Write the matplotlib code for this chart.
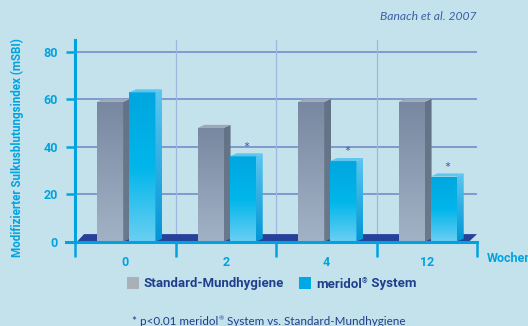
import numpy as np
import matplotlib.pyplot as plt
from matplotlib.patches import Polygon, Rectangle
from matplotlib.colors import LinearSegmentedColormap

plt.rcParams['font.family'] = ['Lato', 'DejaVu Sans']

weeks = ['0', '2', '4', '12']
standard = [59, 48, 59, 59]
meridol = [63, 36, 34, 27.5]
significant = [False, True, True, True]

BLUE = '#00a3e0'
NAVY = '#1f3f8c'
BG = '#c4e2eb'
BOLD = dict(family=['Roboto', 'DejaVu Sans'], fontweight='bold')

fig = plt.figure(figsize=(5.28, 3.26), dpi=100, facecolor=BG)
ax = fig.add_axes([75 / 528, 1 - 241.7 / 326, 402 / 528, 201.7 / 326])
ax.set_facecolor('none')
ax.set_xlim(-0.5, 3.5)
ax.set_ylim(0, 85.1)

# grid
for y in [20, 40, 60, 80]:
    ax.axhline(y, color='#6f86c6', lw=1.1, zorder=1)
for x in [0.5, 1.5, 2.5]:
    ax.axvline(x, color='#9fb6de', lw=0.9, zorder=1)

# floor
floor = Polygon([(-0.48, 0), (3.42, 0), (3.5, 3.2), (-0.41, 3.2)],
                closed=True, fc='#27409a', ec='none', zorder=2)
ax.add_patch(floor)

dx, dy = 0.068, 1.3
gray_cmap = LinearSegmentedColormap.from_list('g', ['#7888a0', '#a2b2c6'])
blue_cmap = LinearSegmentedColormap.from_list('b', ['#00a6df', '#00b6ea', '#6acff3'])
blue_side = LinearSegmentedColormap.from_list('bs', ['#5cc6f0', '#0096d6'])
gray_side = LinearSegmentedColormap.from_list('gs', ['#637286', '#6a7a8c'])
grad = np.linspace(0, 1, 100).reshape(-1, 1)


def filled(patch, cmap, ext):
    ax.add_patch(patch)
    im = ax.imshow(grad, cmap=cmap, aspect='auto', extent=ext,
                   origin='upper', zorder=4)
    im.set_clip_path(patch)


def bar3d(x0, w, h, cmap, side_cmap, top):
    x1 = x0 + w
    filled(Rectangle((x0, 0), w, h, fc='none', ec='none', zorder=4),
           cmap, (x0, x1, 0, h))
    filled(Polygon([(x1, 0), (x1 + dx, dy), (x1 + dx, h + dy), (x1, h)],
                   fc='none', ec='none', zorder=4),
           side_cmap, (x1, x1 + dx, 0, h + dy))
    ax.add_patch(Polygon([(x0, h), (x0 + dx, h + dy), (x1 + dx, h + dy), (x1, h)],
                         fc=top, ec='none', zorder=4))


for i in range(len(weeks)):
    bar3d(i - 0.28, 0.26, standard[i], gray_cmap, gray_side, '#9ca8b6')
    bar3d(i + 0.04, 0.26, meridol[i], blue_cmap, blue_side, '#5cc6f0')
    if significant[i]:
        ax.text(i + 0.17 + dx / 2, meridol[i] + dy - 1.0, '*', color='#3d5fa6',
                ha='center', va='bottom', fontsize=10.5)

ax.set_xlim(-0.5, 3.5)
ax.set_ylim(0, 85.1)

for s in ['top', 'right']:
    ax.spines[s].set_visible(False)
ax.spines['left'].set_color(BLUE)
ax.spines['left'].set_linewidth(2.2)
ax.spines['left'].set_zorder(6)
ax.spines['bottom'].set_color(BLUE)
ax.spines['bottom'].set_linewidth(2.2)
ax.spines['bottom'].set_bounds(-0.59, 3.5)
ax.spines['bottom'].set_zorder(6)

ax.set_yticks([0, 20, 40, 60, 80])
ax.set_yticklabels(['0', '20', '40', '60', '80'], fontsize=9, **BOLD)
ax.tick_params(axis='y', colors=BLUE, length=6.5, width=1.8, pad=6)

ax.set_xticks([-0.5, 0.5, 1.5, 2.5, 3.5])
ax.set_xticklabels([])
ax.tick_params(axis='x', which='major', colors=BLUE, length=11, width=1.8)
ax.set_xticks(range(len(weeks)), minor=True)
ax.set_xticklabels(weeks, minor=True, fontsize=9, color=BLUE, **BOLD)
ax.tick_params(axis='x', which='minor', length=0, pad=10)

fig.text(17 / 528, 1 - 148 / 326, 'Modifizierter Sulkusblutungsindex (mSBI)',
         rotation=90, ha='center', va='center', color=BLUE, fontsize=8.4, **BOLD)
fig.text(487 / 528, 1 - 259 / 326, 'Wochen', ha='left', va='center',
         color=BLUE, fontsize=9, **BOLD)
fig.text(476 / 528, 1 - 16 / 326, 'Banach et al. 2007', ha='right', va='center',
         color='#3d5fa6', style='italic', fontsize=8.7)


def reg_text(x, y, before, after, size, **kw):
    # text with a small raised ® between two parts
    t1 = fig.text(x, y, before, ha='left', va='baseline', fontsize=size, **kw)
    t2 = ax.annotate('®', xy=(1, 1), xycoords=t1, xytext=(0.3, 0),
                     textcoords='offset points', ha='left', va='top',
                     fontsize=size * 0.55, **kw)
    ax.annotate(after, xy=(1, 0), xycoords=(t2, t1), ha='left', va='bottom',
                fontsize=size, **kw)


# legend
fig.patches.append(Rectangle((127 / 528, 1 - 289 / 326), 12 / 528, 12 / 326,
                             transform=fig.transFigure, fc='#a9b0b8', ec='none'))
fig.text(143 / 528, 1 - 287.5 / 326, 'Standard-Mundhygiene', ha='left', va='baseline',
         color=NAVY, fontsize=9.5, **BOLD)
fig.patches.append(Rectangle((299 / 528, 1 - 289 / 326), 12 / 528, 12 / 326,
                             transform=fig.transFigure, fc='#00a8e6', ec='none'))
reg_text(316 / 528, 1 - 287.5 / 326, 'meridol', ' System', 9.5, color=NAVY, **BOLD)

reg_text(132 / 528, 1 - 325 / 326, '* p<0.01 meridol',
         ' System vs. Standard-Mundhygiene', 8.4, color=NAVY)

fig.savefig('out.png', dpi=100, facecolor=BG)
